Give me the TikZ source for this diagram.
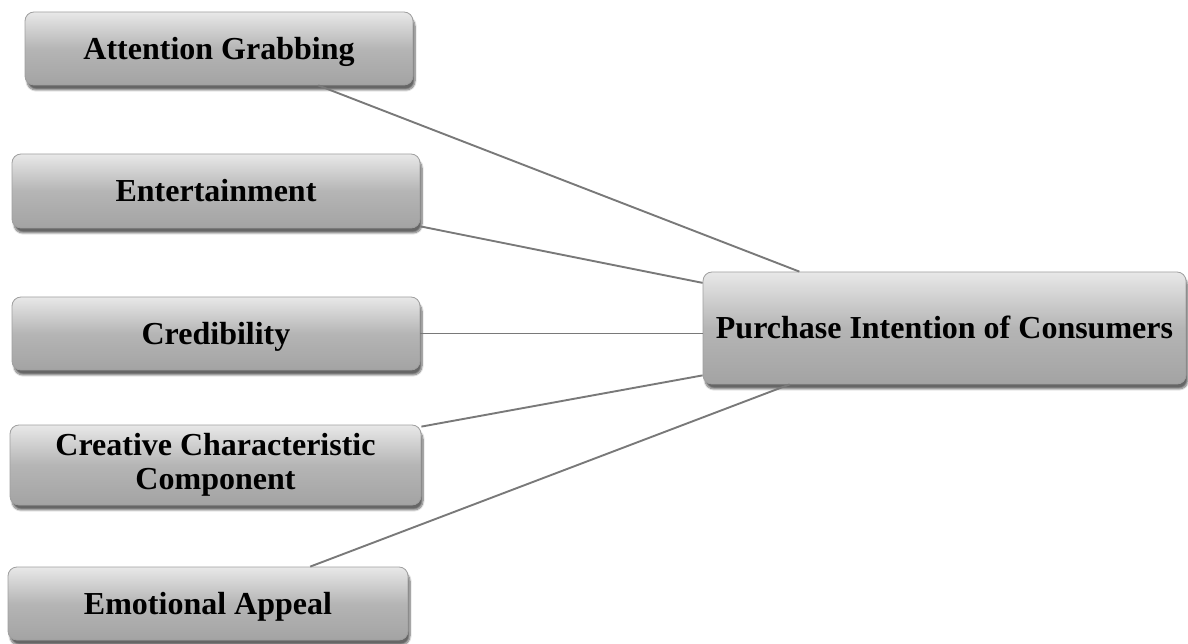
\documentclass[tikz,border=0pt]{standalone}
\usepackage{fontspec}
\setmainfont{Liberation Serif}
\usetikzlibrary{shadows.blur,calc}
\begin{document}
\begin{tikzpicture}[x=1pt,y=1pt,
  box/.style={rectangle, rounded corners=9pt, draw=gray!75, line width=0.8pt,
    top color=gray!18, bottom color=gray!72, middle color=gray!58,
    blur shadow={shadow xshift=2pt, shadow yshift=-5pt, shadow blur steps=8, shadow opacity=60},
    font=\bfseries\fontsize{32}{34}\selectfont, align=center, inner sep=0pt},
  oneline/.style={text height=27pt, text depth=5pt},
  link/.style={draw=gray!95!black, line width=1.9pt}]
\useasboundingbox (0,0) rectangle (1188,643);
\node[box, oneline, minimum width=388, minimum height=73] (ag) at (219,594.5) {Attention Grabbing};
\node[box, oneline, minimum width=408, minimum height=74] (en) at (216,452) {Entertainment};
\node[box, oneline, minimum width=408, minimum height=73] (cr) at (216,309.5) {Credibility};
\node[box, minimum width=411, minimum height=80] (cc) at (215.5,178) {Creative Characteristic\\Component};
\node[box, oneline, minimum width=400, minimum height=73] (ea) at (208,39.5) {Emotional Appeal};
\node[box, oneline, minimum width=483, minimum height=112] (pi) at (944.5,315) {Purchase Intention of Consumers};
\draw[link] ($(ag.south west)!0.755!(ag.south east)$) -- ($(pi.north west)!0.2!(pi.north east)$);
\draw[link] ($(en.south east)+(0,2)$) -- ($(pi.north west)!0.1!(pi.south west)$);
\draw[link] (cr.east) -- (cr.east -| pi.west);
\draw[link] ($(cc.north east)+(0,-2)$) -- ($(pi.north west)!0.92!(pi.south west)$);
\draw[link] ($(ea.north west)!0.755!(ea.north east)$) -- ($(pi.south west)!0.18!(pi.south east)$);
\end{tikzpicture}
\end{document}
